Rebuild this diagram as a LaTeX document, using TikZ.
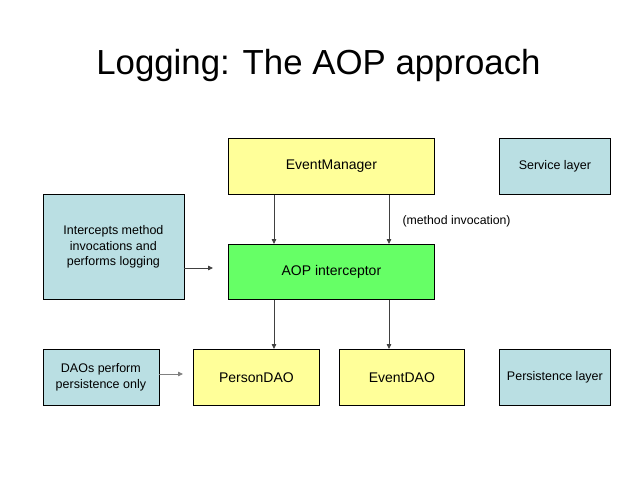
\documentclass[tikz,border=0pt]{standalone}
\usepackage{fontspec}
\setmainfont{Liberation Sans}
\usetikzlibrary{arrows.meta}
\definecolor{boxyellow}{HTML}{FFFF99}
\definecolor{boxgreen}{HTML}{66FF66}
\definecolor{boxblue}{HTML}{BADFE3}
\definecolor{linegray}{HTML}{404040}
\tikzset{
  box/.style={draw=black, line width=0.8pt, inner sep=0pt, anchor=north west,
    font=\fontsize{12.5}{15.5}\selectfont, align=center},
  bigbox/.style={box, font=\fontsize{14}{16}\selectfont},
  arr/.style={draw=linegray, line width=0.8pt, -{Triangle[length=5pt,width=4.5pt]}},
}
\begin{document}
\begin{tikzpicture}[x=1pt,y=-1pt]
\useasboundingbox (0,0) rectangle (638,479);
\node[font=\fontsize{34.8}{40}\selectfont, anchor=base] (title) at (318.5,74) {Logging: The AOP approach};
\node[bigbox, fill=boxyellow, minimum width=206pt, minimum height=56pt] (em) at (228,138) {EventManager};
\node[box, fill=boxblue, minimum width=111pt, minimum height=56pt] (svc) at (499,138) {Service layer};
\node[box, fill=boxblue, minimum width=141pt, minimum height=105pt] (icp) at (42.5,194) {Intercepts method\\invocations and\\performs logging};
\node[bigbox, fill=boxgreen, minimum width=206pt, minimum height=55pt] (aop) at (228,244) {AOP interceptor};
\node[box, fill=boxblue, minimum width=116pt, minimum height=56pt] (dao) at (42.5,349) {DAOs perform\\persistence only};
\node[bigbox, fill=boxyellow, minimum width=126pt, minimum height=56pt] (pdao) at (193,349) {PersonDAO};
\node[bigbox, fill=boxyellow, minimum width=125pt, minimum height=56pt] (edao) at (339,349) {EventDAO};
\node[box, fill=boxblue, minimum width=111pt, minimum height=56pt] (per) at (499,349) {Persistence layer};
\node[font=\fontsize{12.3}{15}\selectfont, anchor=west] (mi) at (399,221) {(method invocation)};
\coordinate (c1) at (274,0);
\coordinate (c2) at (389,0);
\coordinate (ie) at (213,268);
\coordinate (de) at (183,374);
\draw[arr] (em.south -| c1) -- (aop.north -| c1);
\draw[arr] (em.south -| c2) -- (aop.north -| c2);
\draw[arr] (aop.south -| c1) -- (pdao.north -| c1);
\draw[arr] (aop.south -| c2) -- (edao.north -| c2);
\draw[arr] (icp.east |- ie) -- (ie);
\draw[arr, draw=gray] (dao.east |- de) -- (de);
\end{tikzpicture}
\end{document}
